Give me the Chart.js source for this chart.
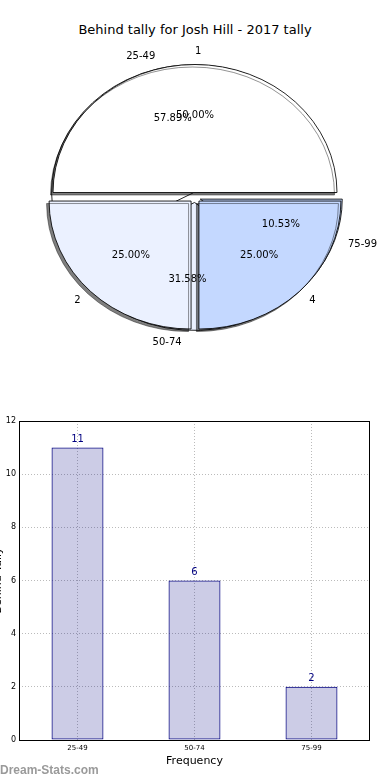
<!DOCTYPE html>
<html>
<head>
<meta charset="utf-8">
<script src="https://cdn.jsdelivr.net/npm/chart.js@4"></script>
<style>
body{margin:0;background:#fff;width:390px;height:780px;position:relative;overflow:hidden;font-family:"DejaVu Sans",sans-serif;}
.box{position:absolute;left:0;}
#pieTitle{position:absolute;top:22px;left:0;width:390px;text-align:center;font-size:13px;color:#000;}
#mark{position:absolute;left:0;top:763px;font:bold 12px "Liberation Sans",Arial,sans-serif;color:#9a9a9a;}
</style>
</head>
<body>
<div id="pieTitle">Behind tally for Josh Hill - 2017 tally</div>
<div class="box" style="top:0;width:390px;height:390px"><canvas id="pieB"></canvas></div>
<div class="box" style="top:0;width:390px;height:390px"><canvas id="pieA"></canvas></div>
<div class="box" style="top:400px;width:390px;height:380px"><canvas id="bars"></canvas></div>
<div id="mark">Dream-Stats.com</div>
<script>
const tallyLabels = ["1", "2", "4"];
const tallyValues = [2, 1, 1];
const rangeLabels = ["25-49", "50-74", "75-99"];
const rangeValues = [11, 6, 2];
const yTicks = [0, 2, 4, 6, 8, 10, 12];
const sliceColors = ["#ffffff", "#ebf1ff", "#c4d8ff"];

Chart.defaults.font.family = "DejaVu Sans";

const SX = 142 / 128;   // reference pie is a bit wider than tall
const EXPLODE = 5;

// draw each wedge pushed out along its middle angle, on a squashed context
function squash(shadow) {
  return {
    id: "squash",
    beforeDatasetDraw(chart, args) {
      const c = chart.ctx;
      args.meta.data.forEach(arc => {
        const mid = (arc.startAngle + arc.endAngle) / 2;
        c.save();
        c.translate(arc.x, arc.y);
        c.scale(SX, 1);
        c.translate(Math.cos(mid) * EXPLODE - arc.x, Math.sin(mid) * EXPLODE - arc.y);
        if (shadow) {
          c.shadowColor = "rgba(0,0,0,0.5)";
          c.shadowOffsetX = -2.5;
          c.shadowOffsetY = 2.5;
          c.shadowBlur = 0.5;
        }
        arc.draw(c);
        c.restore();
      });
      return false;
    }
  };
}

function pieTexts(c, chart) {
  const meta = chart.getDatasetMeta(0);
  const vals = chart.data.datasets[0].data;
  const total = vals.reduce((a, b) => a + b, 0);
  c.save();
  c.fillStyle = "#000";
  c.font = "10px 'DejaVu Sans'";
  c.textBaseline = "middle";
  meta.data.forEach((arc, i) => {
    const mid = (arc.startAngle + arc.endAngle) / 2;
    const r = arc.outerRadius;
    const at = k => [arc.x + Math.cos(mid) * (EXPLODE + k * r) * SX,
                     arc.y + Math.sin(mid) * (EXPLODE + k * r)];
    const [lx, ly] = at(1.1);
    c.textAlign = Math.cos(mid) > -1e-6 ? "left" : "right";
    c.fillText(chart.data.labels[i], lx, ly);
    const [px, py] = at(0.6);
    c.textAlign = "center";
    c.fillText((vals[i] / total * 100).toFixed(2) + "%", px, py);
  });
  c.restore();
}

function pieConfig(labels, values, extra) {
  // chart.js goes clockwise, the reference counter-clockwise from 3 o'clock
  return {
    type: "pie",
    data: {
      labels: labels.slice().reverse(),
      datasets: [{
        data: values.slice().reverse(),
        backgroundColor: sliceColors.slice().reverse(),
        borderColor: "#000",
        borderWidth: 0.8
      }]
    },
    options: {
      responsive: true,
      maintainAspectRatio: false,
      animation: false,
      events: [],
      rotation: 90,
      radius: 128,
      layout: { padding: { top: 5 } },
      plugins: { legend: { display: false }, tooltip: { enabled: false } }
    },
    plugins: extra
  };
}

const pieB = new Chart(document.getElementById("pieB"), pieConfig(rangeLabels, rangeValues, [squash(false)]));

new Chart(document.getElementById("pieA"), pieConfig(tallyLabels, tallyValues, [squash(true), {
  id: "texts",
  afterDraw(chart) {
    pieTexts(chart.ctx, pieB);
    pieTexts(chart.ctx, chart);
  }
}]));

const barExtras = {
  id: "barExtras",
  afterDatasetsDraw(chart) {
    const c = chart.ctx;
    c.save();
    c.fillStyle = "#000080";
    c.font = "10px 'DejaVu Sans'";
    c.textAlign = "center";
    c.textBaseline = "middle";
    chart.getDatasetMeta(0).data.forEach((bar, i) => {
      c.fillText(String(rangeValues[i]), bar.x, bar.y - 8);
    });
    c.restore();
  },
  afterDraw(chart) {
    const a = chart.chartArea;
    const c = chart.ctx;
    c.save();
    c.strokeStyle = "#000";
    c.lineWidth = 1;
    c.strokeRect(Math.round(a.left) + 0.5, Math.round(a.top) + 0.5,
      Math.round(a.right - a.left) - 1, Math.round(a.bottom - a.top));
    // y title sits mostly off the left edge in the reference
    c.translate(1, (a.top + a.bottom) / 2);
    c.rotate(-Math.PI / 2);
    c.fillStyle = "#000";
    c.font = "11px 'DejaVu Sans'";
    c.textAlign = "center";
    c.textBaseline = "alphabetic";
    c.fillText("Behind Tally", 0, 0);
    c.restore();
  }
};

const gridStyle = { color: "#bbbbbb", lineWidth: 1, drawTicks: false, borderDash: [1, 2] };

new Chart(document.getElementById("bars"), {
  type: "bar",
  data: {
    labels: rangeLabels,
    datasets: [{
      data: rangeValues,
      backgroundColor: "rgba(0,0,128,0.2)",
      borderColor: "#000080",
      borderWidth: 1,
      borderSkipped: false,
      barPercentage: 0.444,
      categoryPercentage: 1
    }]
  },
  options: {
    responsive: true,
    maintainAspectRatio: false,
    animation: false,
    events: [],
    layout: { padding: { top: 21, right: 20, left: 0, bottom: 0 } },
    plugins: { legend: { display: false }, tooltip: { enabled: false } },
    scales: {
      x: {
        grid: Object.assign({ offset: false }, gridStyle),
        border: { display: false, dash: [1, 2] },
        ticks: { font: { size: 7 }, color: "#000", padding: 4 },
        title: { display: true, text: "Frequency", font: { size: 11 }, color: "#000", padding: { top: 0, bottom: 12 } },
        afterFit(s) { s.height = 40; }
      },
      y: {
        min: yTicks[0],
        max: yTicks[yTicks.length - 1],
        grid: gridStyle,
        border: { display: false, dash: [1, 2] },
        ticks: { stepSize: yTicks[1] - yTicks[0], font: { size: 8 }, color: "#000", padding: 3 },
        afterFit(s) { s.width = 19; }
      }
    }
  },
  plugins: [barExtras]
});
</script>
</body>
</html>
